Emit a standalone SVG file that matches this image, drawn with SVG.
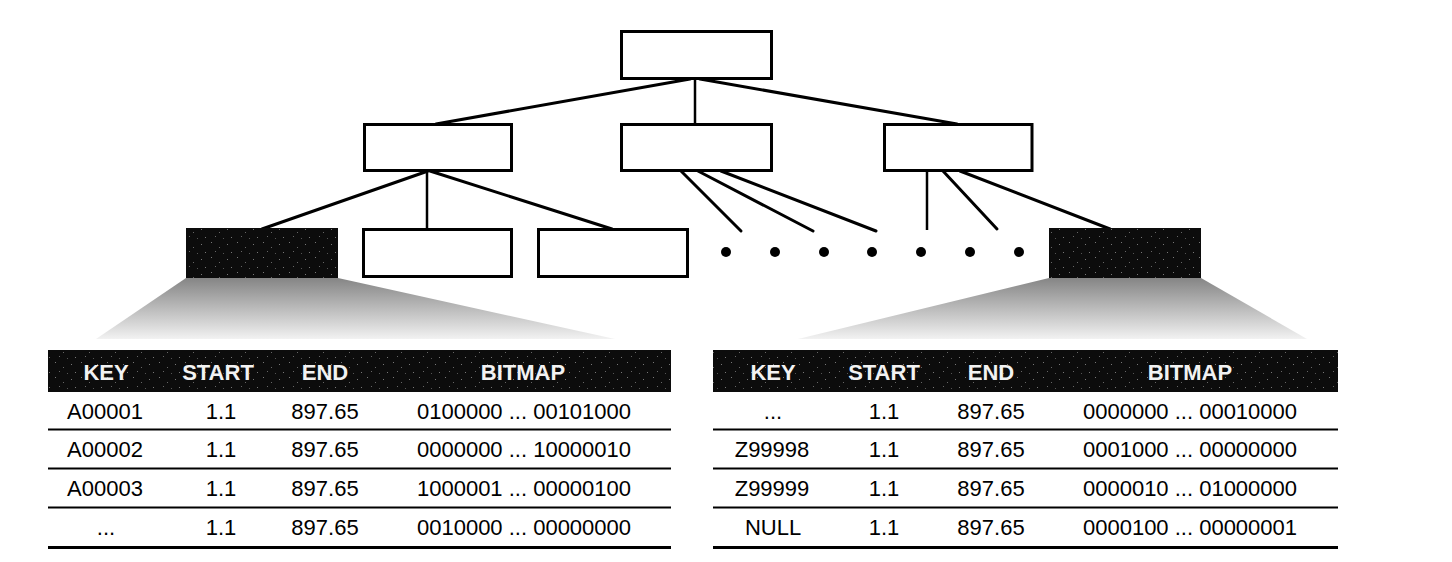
<svg xmlns="http://www.w3.org/2000/svg" width="1452" height="562" viewBox="0 0 1452 562">
<style>
.box{fill:#fff;stroke:#000;stroke-width:3}
.blk{fill:#0c0c0c}
.ln{stroke:#000;stroke-width:3;fill:none;stroke-linecap:round}
.vl{stroke:#000;stroke-width:2.5;fill:none}
.dot{fill:#000}
.hd{font-family:"Liberation Sans",Arial,sans-serif;font-size:22px;font-weight:bold;fill:#f2f2f2;text-anchor:middle}
.td{font-family:"Liberation Sans",Arial,sans-serif;font-size:22px;fill:#000;text-anchor:middle}
.rl{stroke:#000;stroke-width:2}
.bl{stroke:#000;stroke-width:3}
</style>
<defs>
<linearGradient id="fade" x1="0" y1="0" x2="0" y2="1">
<stop offset="0" stop-color="#858585"/>
<stop offset="0.35" stop-color="#ababab"/>
<stop offset="0.75" stop-color="#d6d6d6"/>
<stop offset="1" stop-color="#f2f2f2"/>
</linearGradient>
<pattern id="speck" width="26" height="15" patternUnits="userSpaceOnUse">
<rect x="3" y="2" width="1" height="1" fill="#777"/>
<rect x="11" y="7" width="1" height="1" fill="#666"/>
<rect x="19" y="4" width="1" height="1" fill="#777"/>
<rect x="7" y="11" width="1" height="1" fill="#666"/>
<rect x="23" y="12" width="1" height="1" fill="#777"/>
<rect x="15" y="13" width="1" height="1" fill="#555"/>
</pattern>
</defs>
<rect width="1452" height="562" fill="#fff"/>

<g id="connectors">
<line class="ln" x1="690" y1="79" x2="436" y2="124"/>
<line class="vl" x1="695" y1="79" x2="695" y2="124"/>
<line class="ln" x1="700" y1="79" x2="957" y2="124"/>
<line class="ln" x1="428" y1="171" x2="262" y2="229"/>
<line class="vl" x1="427" y1="171" x2="427" y2="229"/>
<line class="ln" x1="430" y1="171" x2="612" y2="229"/>
<line class="ln" x1="681" y1="171" x2="741" y2="231"/>
<line class="ln" x1="698" y1="171" x2="813" y2="231"/>
<line class="ln" x1="721" y1="171" x2="876" y2="231"/>
<line class="vl" x1="927" y1="171" x2="927" y2="230"/>
<line class="ln" x1="943" y1="171" x2="997" y2="229"/>
<line class="ln" x1="960" y1="171" x2="1110" y2="229"/>
</g>

<g id="root"><rect class="box" x="621.5" y="31.5" width="150" height="47"/></g>
<g id="mid1"><rect class="box" x="364.5" y="124.5" width="147" height="46"/></g>
<g id="mid2"><rect class="box" x="621.5" y="124.5" width="150" height="46"/></g>
<g id="mid3"><rect class="box" x="884.5" y="124.5" width="147.5" height="46"/></g>
<g id="leaf-black-left">
<rect class="blk" x="186" y="228" width="152" height="50"/>
<rect x="186" y="228" width="152" height="50" fill="url(#speck)"/>
</g>
<g id="leaf2"><rect class="box" x="363.5" y="229.5" width="148" height="47"/></g>
<g id="leaf3"><rect class="box" x="538.5" y="229.5" width="149" height="47"/></g>
<g id="leaf-black-right">
<rect class="blk" x="1049" y="228" width="152" height="50"/>
<rect x="1049" y="228" width="152" height="50" fill="url(#speck)"/>
</g>
<g id="dots">
<circle class="dot" cx="726" cy="252" r="5"/>
<circle class="dot" cx="775" cy="252" r="5"/>
<circle class="dot" cx="824" cy="252" r="5"/>
<circle class="dot" cx="872" cy="252" r="5"/>
<circle class="dot" cx="921" cy="252" r="5"/>
<circle class="dot" cx="970" cy="252" r="5"/>
<circle class="dot" cx="1019" cy="252" r="5"/>
</g>

<g id="funnels">
<polygon points="186,278 338,278 615,339 96,339" fill="url(#fade)"/>
<polygon points="1049,278 1201,278 1307,339 798,339" fill="url(#fade)"/>
</g>

<g id="table-left">
<rect class="blk" x="48" y="350" width="623" height="42"/>
<rect x="48" y="350" width="623" height="42" fill="url(#speck)"/>
<text class="hd" x="106" y="380">KEY</text>
<text class="hd" x="218" y="380">START</text>
<text class="hd" x="325" y="380">END</text>
<text class="hd" x="523" y="380">BITMAP</text>
<text class="td" x="105" y="418.5">A00001</text>
<text class="td" x="221" y="418.5">1.1</text>
<text class="td" x="325" y="418.5">897.65</text>
<text class="td" x="524" y="418.5">0100000 ... 00101000</text>
<line class="rl" x1="48" y1="429.5" x2="671" y2="429.5"/>
<text class="td" x="105" y="457">A00002</text>
<text class="td" x="221" y="457">1.1</text>
<text class="td" x="325" y="457">897.65</text>
<text class="td" x="524" y="457">0000000 ... 10000010</text>
<line class="rl" x1="48" y1="468.5" x2="671" y2="468.5"/>
<text class="td" x="105" y="496">A00003</text>
<text class="td" x="221" y="496">1.1</text>
<text class="td" x="325" y="496">897.65</text>
<text class="td" x="524" y="496">1000001 ... 00000100</text>
<line class="rl" x1="48" y1="507.5" x2="671" y2="507.5"/>
<text class="td" x="106" y="535">...</text>
<text class="td" x="221" y="535">1.1</text>
<text class="td" x="325" y="535">897.65</text>
<text class="td" x="524" y="535">0010000 ... 00000000</text>
<line class="bl" x1="48" y1="547.5" x2="671" y2="547.5"/>
</g>

<g id="table-right">
<rect class="blk" x="713" y="350" width="625" height="42"/>
<rect x="713" y="350" width="625" height="42" fill="url(#speck)"/>
<text class="hd" x="773" y="380">KEY</text>
<text class="hd" x="884" y="380">START</text>
<text class="hd" x="991" y="380">END</text>
<text class="hd" x="1190" y="380">BITMAP</text>
<text class="td" x="773" y="418.5">...</text>
<text class="td" x="884" y="418.5">1.1</text>
<text class="td" x="991" y="418.5">897.65</text>
<text class="td" x="1190" y="418.5">0000000 ... 00010000</text>
<line class="rl" x1="713" y1="429.5" x2="1338" y2="429.5"/>
<text class="td" x="772" y="457">Z99998</text>
<text class="td" x="884" y="457">1.1</text>
<text class="td" x="991" y="457">897.65</text>
<text class="td" x="1190" y="457">0001000 ... 00000000</text>
<line class="rl" x1="713" y1="468.5" x2="1338" y2="468.5"/>
<text class="td" x="772" y="496">Z99999</text>
<text class="td" x="884" y="496">1.1</text>
<text class="td" x="991" y="496">897.65</text>
<text class="td" x="1190" y="496">0000010 ... 01000000</text>
<line class="rl" x1="713" y1="507.5" x2="1338" y2="507.5"/>
<text class="td" x="773" y="535">NULL</text>
<text class="td" x="884" y="535">1.1</text>
<text class="td" x="991" y="535">897.65</text>
<text class="td" x="1190" y="535">0000100 ... 00000001</text>
<line class="bl" x1="713" y1="547.5" x2="1338" y2="547.5"/>
</g>
</svg>
